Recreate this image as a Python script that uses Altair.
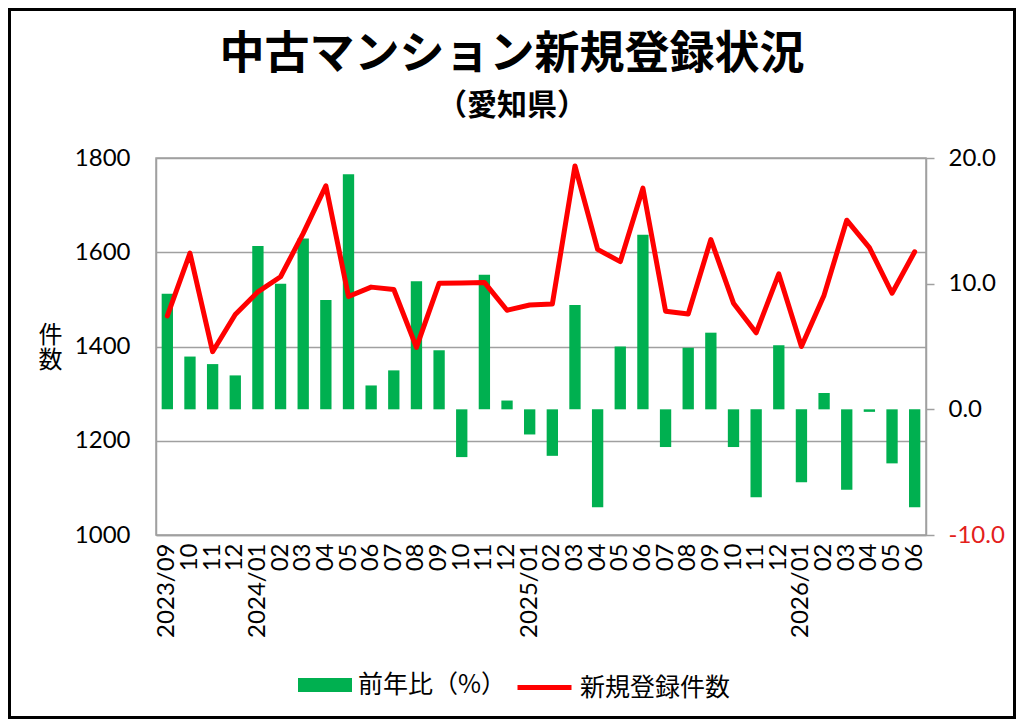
import altair as alt
import pandas as pd

title_text = "中古マンション新規登録状況"
subtitle_text = "（愛知県）"

months = [
    "2023/09", "2023/10", "2023/11", "2023/12",
    "2024/01", "2024/02", "2024/03", "2024/04", "2024/05", "2024/06",
    "2024/07", "2024/08", "2024/09", "2024/10", "2024/11", "2024/12",
    "2025/01", "2025/02", "2025/03", "2025/04", "2025/05", "2025/06",
    "2025/07", "2025/08", "2025/09", "2025/10", "2025/11", "2025/12",
    "2026/01", "2026/02", "2026/03", "2026/04", "2026/05", "2026/06",
]
counts = [1465, 1598, 1389, 1468, 1516, 1548, 1640, 1741, 1506, 1526,
          1521, 1398, 1534, 1535, 1536, 1477, 1488, 1490, 1783, 1606,
          1580, 1736, 1475, 1469, 1627, 1492, 1429, 1554, 1400, 1509,
          1668, 1610, 1513, 1601]
yoy = [9.2, 4.2, 3.6, 2.7, 13.0, 10.0, 13.6, 8.7, 18.7, 1.9,
       3.1, 10.2, 4.7, -3.8, 10.7, 0.7, -2.0, -3.7, 8.3, -7.8,
       5.0, 13.9, -3.0, 4.9, 6.1, -3.0, -7.0, 5.1, -5.8, 1.3,
       -6.4, -0.2, -4.3, -7.8]

bar_name = "前年比（%）"
line_name = "新規登録件数"
left_ticks = [1000, 1200, 1400, 1600, 1800]
right_ticks = [-10, 0, 10, 20]

df = pd.DataFrame({
    "month": months,
    "count": counts,
    "yoy": yoy,
    "bar_s": [bar_name] * len(months),
    "line_s": [line_name] * len(months),
})

JP = "Noto Sans CJK JP"
NUM = "Lato"
GRAY = "#A0A0A0"
W, H = 770, 377
PL, PT, PR, PB = 148, 150, 90, 184

x_enc = alt.X(
    "month:N",
    sort=months,
    scale=alt.Scale(paddingInner=0.5, paddingOuter=0.25),
    axis=alt.Axis(
        title=None,
        labelAngle=-90,
        labelFont=NUM,
        labelFontSize=24,
        labelColor="black",
        labelPadding=8,
        ticks=False,
        domainColor=GRAY,
        domainWidth=1.5,
        labelExpr="(datum.value == '2023/09' || substring(datum.value, 5, 7) == '01') ? datum.value : substring(datum.value, 5, 7)",
    ),
)

base = alt.Chart(df)

bars = base.mark_bar().encode(
    x=x_enc,
    y=alt.Y(
        "yoy:Q",
        scale=alt.Scale(domain=[-10, 20], nice=False, zero=True),
        axis=alt.Axis(
            orient="right",
            title=None,
            values=right_ticks,
            labelExpr="replace(format(datum.value, '.1f'), '\u2212', '-')",
            grid=False,
            ticks=True,
            tickSize=8,
            tickColor=GRAY,
            tickWidth=1.5,
            domainColor=GRAY,
            domainWidth=1.5,
            labelFont=NUM,
            labelFontSize=24,
            labelPadding=14,
            labelColor={"condition": {"test": "datum.value < 0", "value": "#E3201B"}, "value": "black"},
        ),
    ),
    color=alt.Color(
        "bar_s:N",
        scale=alt.Scale(domain=[bar_name], range=["#00B050"]),
        legend=alt.Legend(
            orient="none",
            legendX=142,
            legendY=500,
            title=None,
            symbolType="M-1,-0.26H1V0.26H-1Z",
            symbolSize=2916,
            symbolStrokeWidth=0,
            symbolOpacity=1,
            labelFont=JP,
            labelFontSize=25,
            labelColor="black",
            labelOffset=6,
            padding=0,
        ),
    ),
)

line = base.mark_line(strokeWidth=5, strokeJoin="round", strokeCap="round").encode(
    x=x_enc,
    y=alt.Y(
        "count:Q",
        scale=alt.Scale(domain=[1000, 1800], nice=False, zero=False),
        axis=alt.Axis(
            orient="left",
            title=["件", "数"],
            titleAngle=0,
            titleFont=JP,
            titleFontSize=24,
            titleFontWeight="normal",
            titleColor="black",
            titleAlign="center",
            titleBaseline="middle",
            titleLineHeight=25,
            titleX=-106,
            titleY=177,
            values=left_ticks,
            format="d",
            grid=True,
            gridColor=GRAY,
            gridWidth=1.5,
            ticks=False,
            domainColor=GRAY,
            domainWidth=1.5,
            labelFont=NUM,
            labelFontSize=24,
            labelColor="black",
            labelPadding=26,
        ),
    ),
    stroke=alt.Stroke(
        "line_s:N",
        scale=alt.Scale(domain=[line_name], range=["#FF0000"]),
        legend=alt.Legend(
            orient="none",
            legendX=359,
            legendY=500,
            title=None,
            symbolType="stroke",
            symbolSize=2916,
            symbolStrokeWidth=5,
            labelFont=JP,
            labelFontSize=25,
            labelColor="black",
            labelOffset=6,
            padding=0,
        ),
    ),
)

one = pd.DataFrame({"k": [0]})

border = alt.Chart(one).mark_rect(
    fill=None, stroke="black", strokeWidth=3
).encode(
    x=alt.value(-PL + 1.5),
    x2=alt.value(W + PR - 1.5),
    y=alt.value(-PT + 1.5),
    y2=alt.value(H + PB - 1.5),
)

title_mark = alt.Chart(one).mark_text(
    text=title_text, font=JP, fontSize=45, fontWeight="bold", color="black",
    align="center", baseline="alphabetic",
).encode(x=alt.value(356), y=alt.value(-89))

subtitle_mark = alt.Chart(one).mark_text(
    text=subtitle_text, font=JP, fontSize=30, fontWeight="bold", color="black",
    align="center", baseline="alphabetic",
).encode(x=alt.value(356), y=alt.value(-43))

chart = alt.layer(bars, line, border, title_mark, subtitle_mark).resolve_scale(
    y="independent", color="independent", stroke="independent"
).properties(
    width=W,
    height=H,
    autosize=alt.AutoSizeParams(type="none"),
    padding={"left": PL, "top": PT, "right": PR, "bottom": PB},
    background="white",
).configure_view(
    stroke=GRAY, strokeWidth=1.5
)

chart.save("out.html", embed_options={"renderer": "svg", "actions": False})
